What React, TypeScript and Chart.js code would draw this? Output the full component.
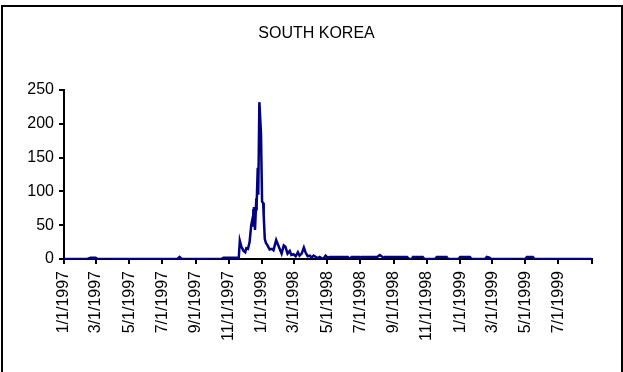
import React, { useEffect, useRef } from "react";
import { Chart, registerables } from "chart.js";

Chart.register(...registerables);

const TITLE = "SOUTH KOREA";

const TICK_LABELS = [
  "1/1/1997", "3/1/1997", "5/1/1997", "7/1/1997", "9/1/1997", "11/1/1997",
  "1/1/1998", "3/1/1998", "5/1/1998", "7/1/1998", "9/1/1998", "11/1/1998",
  "1/1/1999", "3/1/1999", "5/1/1999", "7/1/1999",
];
const AXIS_END = "9/1/1999";

const Y_MIN = 0;
const Y_MAX = 250;
const Y_STEP = 50;

const DATES = [
  "1997-01-01", "1997-02-13", "1997-02-19", "1997-02-28", "1997-03-04",
  "1997-07-29", "1997-08-02", "1997-08-06",
  "1997-10-18", "1997-10-22", "1997-11-15", "1997-11-19", "1997-11-21",
  "1997-11-24", "1997-11-28", "1997-12-01", "1997-12-03", "1997-12-06",
  "1997-12-09", "1997-12-12", "1997-12-14", "1997-12-15", "1997-12-16",
  "1997-12-17", "1997-12-19", "1997-12-21", "1997-12-22", "1997-12-24",
  "1997-12-25", "1997-12-27", "1997-12-30",
  "1998-01-01", "1998-01-03", "1998-01-04", "1998-01-06", "1998-01-08",
  "1998-01-11", "1998-01-15", "1998-01-19", "1998-01-22", "1998-01-27",
  "1998-01-30", "1998-02-02", "1998-02-06", "1998-02-10", "1998-02-13",
  "1998-02-17", "1998-02-21", "1998-02-24", "1998-02-28", "1998-03-04",
  "1998-03-08", "1998-03-11", "1998-03-15", "1998-03-19", "1998-03-22",
  "1998-03-26", "1998-03-30", "1998-04-02", "1998-04-06", "1998-04-10",
  "1998-04-13", "1998-04-17", "1998-04-24", "1998-04-28", "1998-05-02",
  "1998-05-06", "1998-06-08", "1998-06-12", "1998-06-15", "1998-06-30",
  "1998-07-02", "1998-07-04", "1998-08-01", "1998-08-06", "1998-08-11",
  "1998-08-13", "1998-08-15", "1998-09-25", "1998-09-29", "1998-10-04",
  "1998-10-06", "1998-10-24", "1998-10-27", "1998-11-16", "1998-11-19",
  "1998-12-07", "1998-12-10", "1998-12-29",
  "1999-01-01", "1999-01-19", "1999-01-22", "1999-02-16", "1999-02-19",
  "1999-02-24", "1999-02-27", "1999-05-01", "1999-05-04", "1999-05-15",
  "1999-05-18", "1999-08-31",
];

const VALUES = [
  0, 0, 2, 2, 0,
  0, 3, 0,
  0, 2, 2, 1, 27,
  18, 12, 10, 16, 15,
  25, 50, 58, 48, 72,
  77, 43, 82, 80, 135,
  95, 232, 186,
  85, 83, 65, 30, 24,
  20, 14, 15, 13, 28,
  22, 16, 8, 20, 18,
  8, 12, 6, 7, 4,
  10, 5, 8, 17, 10,
  4, 5, 2, 5, 3,
  1, 3, 0, 5, 2,
  3, 3, 0, 3, 3,
  0, 3, 3, 6, 3,
  0, 3, 3, 0, 0,
  3, 3, 0, 0, 3,
  3, 0, 0,
  3, 3, 0, 0, 3,
  2, 0, 0, 3, 3,
  0, 0,
];

const DAY_MS = 86400000;
const ORIGIN = Date.UTC(1997, 0, 1);
const isoDay = (s: string) => {
  const [y, m, d] = s.split("-").map(Number);
  return Math.round((Date.UTC(y, m - 1, d) - ORIGIN) / DAY_MS);
};
const mdyDay = (s: string) => {
  const [m, d, y] = s.split("/").map(Number);
  return Math.round((Date.UTC(y, m - 1, d) - ORIGIN) / DAY_MS);
};

const FONT = "'Liberation Sans', Arial, sans-serif";

export default function App() {
  const ref = useRef<HTMLCanvasElement | null>(null);

  useEffect(() => {
    document.body.style.margin = "0";
    const canvas = ref.current;
    if (!canvas) return;

    const points = DATES.map((d, i) => ({ x: isoDay(d), y: VALUES[i] }));
    const tickMap = new Map<number, string>();
    TICK_LABELS.forEach((t) => tickMap.set(mdyDay(t), t));
    const endDay = mdyDay(AXIS_END);
    tickMap.set(endDay, "");
    const tickDays = Array.from(tickMap.keys()).sort((a, b) => a - b);

    const frame = {
      id: "frame",
      afterDraw(chart: any) {
        const ctx = chart.ctx;
        ctx.save();
        ctx.strokeStyle = "#000";
        ctx.lineWidth = 2;
        ctx.beginPath();
        ctx.moveTo(2, 372);
        ctx.lineTo(2, 6);
        ctx.lineTo(622, 6);
        ctx.lineTo(622, 372);
        ctx.stroke();
        ctx.fillStyle = "#000";
        ctx.font = `16px ${FONT}`;
        ctx.textAlign = "center";
        ctx.textBaseline = "middle";
        ctx.fillText(TITLE, 316.5, 33.5);
        ctx.restore();
      },
    };

    const chart = new Chart(canvas, {
      type: "line",
      data: {
        datasets: [
          {
            data: points,
            borderColor: "#000080",
            backgroundColor: "#000080",
            borderWidth: 2.5,
            pointRadius: 0,
            tension: 0,
            fill: false,
          },
        ],
      },
      options: {
        responsive: false,
        animation: false,
        layout: { padding: { top: 90, left: 0, right: 31, bottom: 0 } },
        plugins: {
          legend: { display: false },
          title: { display: false },
          tooltip: { enabled: false },
        },
        scales: {
          x: {
            type: "linear",
            min: 0,
            max: endDay,
            z: 1,
            afterFit(scale: any) {
              scale.height = 372 - 259;
            },
            afterBuildTicks(scale: any) {
              scale.ticks = tickDays.map((v) => ({ value: v }));
            },
            grid: {
              drawOnChartArea: false,
              drawTicks: true,
              tickLength: 5,
              color: "#000",
              lineWidth: 2,
            },
            border: { display: true, color: "#000", width: 2 },
            ticks: {
              autoSkip: false,
              minRotation: 90,
              maxRotation: 90,
              padding: 7,
              color: "#000",
              font: { family: FONT, size: 16 },
              callback: (v: any) => tickMap.get(Number(v)) ?? "",
            },
          },
          y: {
            min: Y_MIN,
            max: Y_MAX,
            z: 1,
            afterFit(scale: any) {
              scale.width = 64;
            },
            grid: {
              drawOnChartArea: false,
              drawTicks: true,
              tickLength: 5,
              color: "#000",
              lineWidth: 2,
            },
            border: { display: true, color: "#000", width: 2 },
            ticks: {
              stepSize: Y_STEP,
              padding: 5,
              color: "#000",
              font: { family: FONT, size: 16 },
            },
          },
        },
      },
      plugins: [frame],
    });

    return () => chart.destroy();
  }, []);

  return (
    <div style={{ position: "absolute", left: 0, top: 0, width: 623, height: 372, background: "#fff" }}>
      <canvas ref={ref} width={623} height={372} style={{ display: "block" }} />
    </div>
  );
}
